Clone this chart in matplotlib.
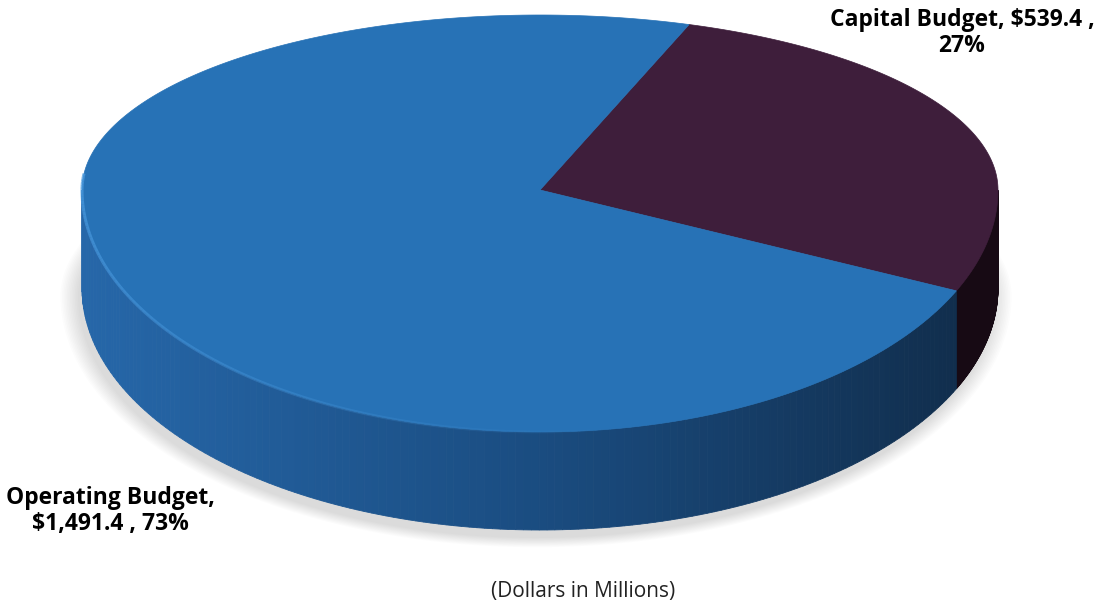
import numpy as np
import matplotlib.pyplot as plt
from matplotlib.colors import to_rgb
from matplotlib.patches import Polygon

# data
labels = ['Capital Budget', 'Operating Budget']
values = [539.4, 1491.4]
top_colors = ['#3e1e3b', '#2772b6']
side_stops = [['#2a1426', '#1c0d19', '#170a14'],
              ['#2667a9', '#1a4c80', '#102b48']]
note = '(Dollars in Millions)'

start_deg = 71.0  # capital slice starts near the top and runs clockwise

# disc geometry in pixel coordinates (y grows downward); front half is
# taller than the back half to fake perspective
cx, cy, rx = 540, 190, 458
ry_back, ry_front = 175, 242
depth = 98


def top_pt(t):
    s = np.sin(t)
    ry = ry_back if s > 0 else ry_front
    return cx + rx * np.cos(t), cy - ry * s


def bot_pt(t):
    x, y = top_pt(t)
    return x, y + depth


def grad(stops, w):
    c = [np.array(to_rgb(s)) for s in stops]
    if w < 0.5:
        return c[0] * (1 - 2 * w) + c[1] * 2 * w
    return c[1] * (2 - 2 * w) + c[2] * (2 * w - 1)


fig = plt.figure(figsize=(10.99, 6.05), dpi=100)
ax = fig.add_axes([0, 0, 1, 1])
ax.set_xlim(0, 1099)
ax.set_ylim(605, 0)
ax.axis('off')

# soft shadow: stacked, slightly grown copies of the bottom outline
ring = np.linspace(0, 2 * np.pi, 400)
base = np.array([bot_pt(t) for t in ring])
for k in range(12):
    sc = 1.0 + 0.0035 * k
    pts = np.column_stack([cx - 4 + (base[:, 0] - cx) * sc,
                           cy + depth + 8 + (base[:, 1] - cy - depth) * sc])
    ax.add_patch(Polygon(pts, closed=True, facecolor='#000000', edgecolor='none',
                         alpha=0.012, zorder=1))

total = sum(values)
fracs = [v / total for v in values]
bounds = []
a = np.deg2rad(start_deg)
for f in fracs:
    b = a - 2 * np.pi * f
    bounds.append((b, a))
    a = b

# side wall: only the front half (angles pi..2pi) can be seen
for i, (t1, t2) in enumerate(bounds):
    for shift in (0, 2 * np.pi, -2 * np.pi, 4 * np.pi):
        s_lo = max(t1 + shift, np.pi)
        s_hi = min(t2 + shift, 2 * np.pi)
        if s_hi <= s_lo:
            continue
        ts = np.linspace(s_lo, s_hi, 160)
        for j in range(len(ts) - 1):
            ta, tb = ts[j], ts[j + 1]
            w = np.clip((top_pt(ta)[0] - (cx - rx)) / (2 * rx), 0, 1)
            col = grad(side_stops[i], w)
            pts = [top_pt(ta), top_pt(tb), bot_pt(tb), bot_pt(ta)]
            ax.add_patch(Polygon(pts, closed=True, facecolor=col, edgecolor=col,
                                 lw=0.6, zorder=2))

# top faces
for i, (t1, t2) in enumerate(bounds):
    ts = np.linspace(t1, t2, 300)
    pts = [(cx, cy)] + [top_pt(t) for t in ts]
    ax.add_patch(Polygon(pts, closed=True, facecolor=top_colors[i],
                         edgecolor=top_colors[i], lw=0.5, zorder=3))

# bevel highlight on the front rim of the blue slice, fading to the right
ts = np.linspace(np.pi * 0.97, np.pi * 1.55, 120)
for j in range(len(ts) - 1):
    p0, p1 = top_pt(ts[j]), top_pt(ts[j + 1])
    al = 0.75 * (1 - j / len(ts))
    ax.plot([p0[0], p1[0]], [p0[1], p1[1]], color='#4b9be0', lw=2.2,
            alpha=al, zorder=4, solid_capstyle='butt')

# labels
lab_font = dict(fontsize=16.5, fontweight='bold', family='Open Sans', color='#000000',
                ha='center', va='center', linespacing=1.1)
pcts = [round(f * 100) for f in fracs]
ax.text(962, 33, f'{labels[0]}, ${values[0]:,.1f} ,\n{pcts[0]}%', **lab_font)
ax.text(110, 511, f'{labels[1]},\n${values[1]:,.1f} , {pcts[1]}%', **lab_font)

ax.text(583, 592, note, fontsize=15, family='Open Sans', color='#222222',
        ha='center', va='center')

fig.savefig('out.png', dpi=100)
